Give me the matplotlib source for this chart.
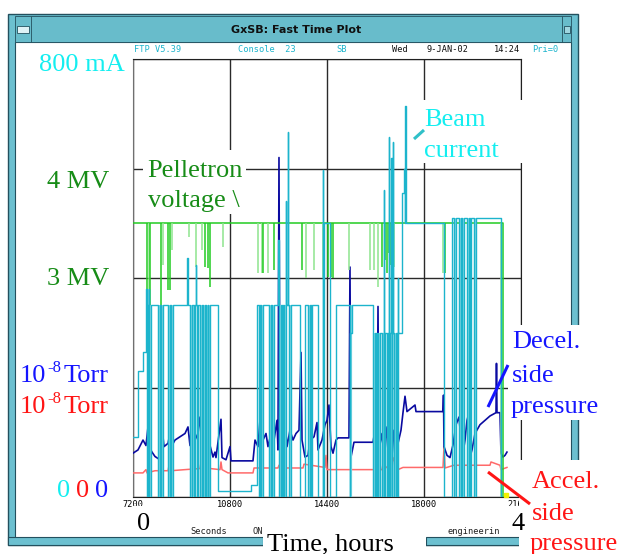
import numpy as np
import matplotlib.pyplot as plt
from matplotlib.patches import Rectangle
from matplotlib.lines import Line2D

W, H = 621, 554

# ---- values (time in seconds) ----
# beam current, mA: step levels
beam_steps = [(7200, 110), (7386, 230), (7571, 265), (7682, 380), (7760, 350),
              (10060, 0), (10355, 11), (11579, 22), (11802, 350), (13398, 0),
              (13583, 350), (14066, 0), (14290, 500), (14510, 0), (14734, 350),
              (15253, 300), (17035, 400), (17183, 555), (17250, 600), (17295, 500),
              (18742, 0), (19039, 510), (20857, 0), (20931, 0)]
# short trips of the beam down to zero
beam_drops = [7720, 7800, 8130, 8250, 8500, 8620, 9330, 9450, 9570, 9690, 9800,
              9920, 10000, 11870, 11950, 12250, 12360, 12620, 12720, 12800, 12990,
              13700, 13790, 15250, 16110, 16200, 16290, 16440, 16530, 16620,
              16710, 16800, 16890, 16990, 19113, 19300, 19410, 19600, 19690, 19855]
# short upward spikes (time, mA)
beam_spikes = [(9204, 437), (9520, 424), (12580, 470), (12870, 540), (12950, 667),
               (14250, 597), (16515, 561), (16701, 658), (16780, 620), (16849, 648),
               (17300, 714)]

# Pelletron voltage, MV
volt_level = 3.5
volt_end = 20931
volt_dips = [(7720, 2.80), (7830, 2.68), (8240, 2.64), (8500, 2.89), (8570, 2.89),
             (9870, 3.10), (9990, 3.09), (10060, 2.92), (12025, 3.05), (12430, 3.07),
             (13470, 3.07), (14440, 3.01), (14550, 3.01), (14620, 3.00), (16440, 3.10),
             (16550, 3.16), (16620, 3.05), (16700, 3.23), (16790, 3.12), (18779, 3.05),
             (19670, 3.05)]
volt_dips_light = [(7790, 2.63), (8310, 3.12), (8650, 3.26), (9280, 3.37), (9520, 3.10),
                   (9760, 3.26), (10540, 3.28), (11840, 3.05), (11990, 3.05), (12210, 3.05),
                   (13620, 3.00), (13900, 3.07), (14250, 3.00), (15216, 3.07), (16000, 3.07),
                   (16144, 3.07), (16293, 2.92), (16900, 3.10), (18705, 3.05), (20857, 1.0)]

# decel side pressure, 1e-8 Torr
decel = [(7200, 0.40), (7386, 0.43), (7571, 0.52), (7682, 0.47), (7757, 0.64), (7794, 0.46),
         (7905, 0.41), (8016, 0.37), (8202, 0.34), (8276, 0.64), (8350, 0.46), (8499, 0.49),
         (8573, 0.58), (8647, 0.47), (8758, 0.52), (8944, 0.55), (9130, 0.58), (9241, 0.64),
         (9315, 0.47), (9390, 0.73), (9501, 0.52), (9612, 0.58), (9687, 0.73), (9761, 0.47),
         (9872, 0.58), (9984, 0.70), (10058, 0.47), (10169, 0.365), (10243, 0.41),
         (10280, 0.36), (10466, 0.71), (10503, 0.36), (10651, 0.34), (10800, 0.46),
         (10837, 0.33), (11653, 0.33), (11728, 0.52), (11839, 0.46), (11988, 0.95),
         (12025, 0.52), (12136, 0.58), (12210, 0.46), (12322, 0.58), (12433, 0.52),
         (12544, 0.70), (12581, 0.43), (12618, 3.10), (12656, 0.52), (12767, 0.58),
         (12841, 0.70), (12915, 0.46), (13027, 0.61), (13138, 0.52), (13249, 0.58),
         (13361, 0.61), (13435, 1.32), (13472, 0.52), (13583, 0.365), (13695, 0.38),
         (13769, 0.52), (13918, 0.55), (14029, 0.68), (14066, 0.43), (14214, 0.52),
         (14326, 0.66), (14400, 0.70), (14474, 0.84), (14548, 0.46), (14623, 0.40),
         (14734, 0.52), (14808, 0.54), (15216, 0.54), (15253, 2.10), (15290, 0.365),
         (15401, 0.50), (16107, 0.50), (16181, 0.61), (16256, 0.40), (16293, 1.74),
         (16330, 0.43), (16441, 0.58), (16515, 0.38), (16589, 0.64), (16664, 0.43),
         (16738, 0.68), (16812, 0.38), (16886, 0.61), (16960, 0.40), (17035, 0.49),
         (17146, 0.61), (17220, 0.77), (17295, 0.92), (17369, 0.78), (17666, 0.84),
         (17703, 0.78), (18705, 0.78), (18724, 0.93), (18742, 0.46), (18854, 0.38),
         (18965, 0.36), (19076, 0.475), (19188, 0.66), (19299, 0.73), (19373, 0.52),
         (19447, 0.40), (19522, 0.52), (19596, 0.70), (19670, 0.77), (19707, 0.365),
         (19781, 0.43), (19893, 0.58), (20078, 0.66), (20264, 0.70), (20449, 0.74),
         (20672, 0.77), (20690, 1.22), (20709, 0.77), (20820, 0.77), (20857, 0.40),
         (20931, 0.365), (21005, 0.38), (21079, 0.41)]

# accel side pressure, 1e-8 Torr
accel = [(7200, 0.22), (7571, 0.22), (7682, 0.25), (7720, 0.22), (8016, 0.24), (8499, 0.24),
         (8573, 0.33), (8610, 0.24), (9130, 0.25), (9687, 0.26), (9761, 0.37), (9798, 0.25),
         (10058, 0.26), (10429, 0.25), (10466, 0.32), (10503, 0.25), (10726, 0.22),
         (11653, 0.22), (11691, 0.265), (12581, 0.265), (12618, 0.29), (12656, 0.265),
         (13509, 0.265), (13546, 0.30), (14326, 0.27), (14363, 0.38), (14400, 0.25),
         (16441, 0.25), (16478, 0.30), (16664, 0.26), (16701, 0.33), (16812, 0.26),
         (16849, 0.36), (17035, 0.25), (17220, 0.27), (18705, 0.27), (18742, 0.46),
         (18779, 0.265), (19113, 0.29), (19410, 0.29), (19447, 0.46), (19484, 0.29),
         (19633, 0.29), (19670, 0.46), (19707, 0.29), (20449, 0.29), (20486, 0.32),
         (20820, 0.29), (20857, 0.25), (21079, 0.27)]

x_ticks = [7200, 10800, 14400, 18000, 21600]
x_tick_labels = ['7200', '10800', '14400', '18000', '21600']

# ---- colours ----
teal = '#6cc0d0'
teal_dark = '#23505e'
cyan_dark = '#1cb4cc'
cyan_light = '#8cdbe6'
green = '#22cc22'
green_light = '#8ee48e'
navy = '#0a0aa0'
salmon = '#ff6a6a'
txt_green = '#178c17'
txt_cyan = '#14eef0'
txt_blue = '#1515ff'
txt_red = '#ff1515'

fig = plt.figure(figsize=(W / 100, H / 100), dpi=100)
fig.patch.set_facecolor('white')


def fx(x):
    return x / W


def fy(y):
    return 1 - y / H


def box(x0, y0, x1, y1, z, **kw):
    fig.add_artist(Rectangle((fx(x0), fy(y1)), (x1 - x0) / W, (y1 - y0) / H,
                             transform=fig.transFigure, zorder=z, **kw))


def seg(x0, y0, x1, y1, color, lw=2.2, z=7):
    fig.add_artist(Line2D([fx(x0), fx(x1)], [fy(y0), fy(y1)], color=color, lw=lw,
                          transform=fig.transFigure, zorder=z, solid_capstyle='butt'))


# window frame
box(8, 14, 578, 545, -2, facecolor=teal, edgecolor=teal_dark, lw=1)
box(15, 42, 571, 538, -1, facecolor='white', edgecolor=teal_dark, lw=0.8)
box(15, 16, 571, 42, -1, facecolor='#68bccb', edgecolor=teal_dark, lw=0.6)
box(17, 26, 29, 33, 0, facecolor='#dff2f6', edgecolor=teal_dark, lw=0.6)
box(564, 26, 570, 33, 0, facecolor='#9fd6e0', edgecolor=teal_dark, lw=0.6)
seg(31, 16, 31, 42, teal_dark, lw=0.6, z=0)
seg(562, 16, 562, 42, teal_dark, lw=0.6, z=0)
fig.text(fx(296), fy(30), 'GxSB: Fast Time Plot', ha='center', va='center',
         fontsize=8, fontweight='bold', family='DejaVu Sans', color='#101010')

mono = dict(family='DejaVu Sans Mono', fontsize=6.2, va='center')
for x, s, c in [(134, 'FTP V5.39', cyan_dark), (238, 'Console  23', cyan_dark),
                (336, 'SB', cyan_dark), (392, 'Wed', '#101010'),
                (427, '9-JAN-02', '#101010'), (494, '14:24', '#101010'),
                (532, 'Pri=0', cyan_dark)]:
    fig.text(fx(x), fy(50), s, color=c, **mono)

# ---- plot axes ----
ax = fig.add_axes([fx(133), fy(497), 388 / W, 438 / H])
ax.set_xlim(7200, 21600)
ax.set_ylim(0, 800)
ax.set_xticks(x_ticks)
ax.set_xticklabels(x_tick_labels, family='DejaVu Sans Mono', fontsize=6.2)
ax.set_yticks([0, 200, 400, 600, 800])
ax.set_yticklabels([])
ax.tick_params(length=0, pad=2)
ax.grid(True, color='#2a2a2a', lw=1)
for s in ax.spines.values():
    s.set_color('#202020')
ax.spines['left'].set_color('#707070')

ax_p = ax.twinx()
ax_p.set_ylim(0, 4)
ax_p.axis('off')
ax_v = ax.twinx()
ax_v.set_ylim(1, 5)
ax_v.axis('off')
ax_c = ax.twinx()
ax_c.set_ylim(0, 800)
ax_c.axis('off')

# pressures
at, ap = zip(*accel)
ax_p.plot(at, ap, color=salmon, lw=1.1)
dt, dp = zip(*decel)
ax_p.plot(dt, dp, color=navy, lw=1.2)

# voltage
ax_v.plot([7200, volt_end, volt_end], [volt_level, volt_level, 1.0], color=green, lw=1.1)
lt, lv = zip(*volt_dips_light)
ax_v.vlines(lt, lv, volt_level, color=green_light, lw=1.1)
gt, gv = zip(*volt_dips)
ax_v.vlines(gt, gv, volt_level, color=green, lw=1.1)
ax_v.plot([21040], [1.02], 's', color='#f0f000', ms=3, clip_on=False)

# beam current, built from step levels, trips and spikes
st = np.array([p[0] for p in beam_steps])
sv = np.array([p[1] for p in beam_steps])


def level_at(t):
    i = np.searchsorted(st, t, side='right') - 1
    return sv[max(i, 0)]


pts = list(beam_steps)
for t in beam_drops:
    pts += [(t, 0), (t + 60, level_at(t))]
for t, pk in beam_spikes:
    pts += [(t, pk), (t + 20, level_at(t))]
pts.sort(key=lambda p: p[0])
bt, bv = zip(*pts)
ax_c.vlines([t + 30 for t in beam_drops], 0, [level_at(t) for t in beam_drops],
            color=cyan_light, lw=1.6)
ax_c.plot(bt, bv, color=cyan_dark, lw=1.0, drawstyle='steps-post')

# ---- white boxes behind annotations ----
for b in [(143, 150, 246, 214), (420, 100, 524, 163), (508, 325, 604, 420),
          (519, 460, 621, 554), (263, 528, 426, 554), (133, 506, 153, 535),
          (508, 506, 527, 535)]:
    box(*b, 4, facecolor='white', edgecolor='none')

# teal bars along the bottom
box(8, 537, 263, 545, 3, facecolor=teal, edgecolor=teal_dark, lw=0.8)
box(426, 537, 532, 545, 3, facecolor=teal, edgecolor=teal_dark, lw=0.8)

serif = dict(family='Liberation Serif', fontsize=19, va='baseline', zorder=6)
fig.text(fx(125), fy(71), '800 mA', ha='right', color=txt_cyan, **serif)
fig.text(fx(47), fy(188), '4 MV', color=txt_green, **serif)
fig.text(fx(47), fy(285), '3 MV', color=txt_green, **serif)
for yb, c in [(382, txt_blue), (413, txt_red)]:
    fig.text(fx(20), fy(yb), '10', color=c, **serif)
    fig.text(fx(47), fy(yb - 10), '-8', color=c, family='Liberation Serif',
             fontsize=12, va='baseline', zorder=6)
    fig.text(fx(64), fy(yb), 'Torr', color=c, **serif)
fig.text(fx(57), fy(497), '0', color=txt_cyan, **serif)
fig.text(fx(76), fy(497), '0', color=txt_red, **serif)
fig.text(fx(95), fy(497), '0', color=txt_blue, **serif)

fig.text(fx(147), fy(177), 'Pelletron', color=txt_green, **serif)
fig.text(fx(148), fy(207), 'voltage \\', color=txt_green, **serif)
fig.text(fx(424), fy(126), 'Beam', color=txt_cyan, **serif)
fig.text(fx(424), fy(157), 'current', color=txt_cyan, **serif)
fig.text(fx(512), fy(348), 'Decel.', color=txt_blue, **serif)
fig.text(fx(512), fy(382), 'side', color=txt_blue, **serif)
fig.text(fx(511), fy(413), 'pressure', color=txt_blue, **serif)
fig.text(fx(532), fy(488), 'Accel.', color=txt_red, **serif)
fig.text(fx(532), fy(520), 'side', color=txt_red, **serif)
fig.text(fx(530), fy(550), 'pressure', color=txt_red, **serif)
fig.text(fx(137), fy(530), '0', color='black', **serif)
fig.text(fx(512), fy(530), '4', color='black', **serif)
fig.text(fx(267), fy(550), 'Time, hours', color='black', **serif)

small = dict(family='DejaVu Sans Mono', fontsize=6.2, va='center', color='#202020', zorder=6)
fig.text(fx(190), fy(531), 'Seconds', **small)
fig.text(fx(252), fy(531), 'ON', **small)
fig.text(fx(448), fy(531), 'engineerin', **small)

# pointer strokes
seg(414, 139, 424, 130, '#30c0c8')
seg(488, 407, 508, 365, txt_blue)
seg(488, 472, 530, 504, txt_red)

fig.savefig('out.png', dpi=100)
